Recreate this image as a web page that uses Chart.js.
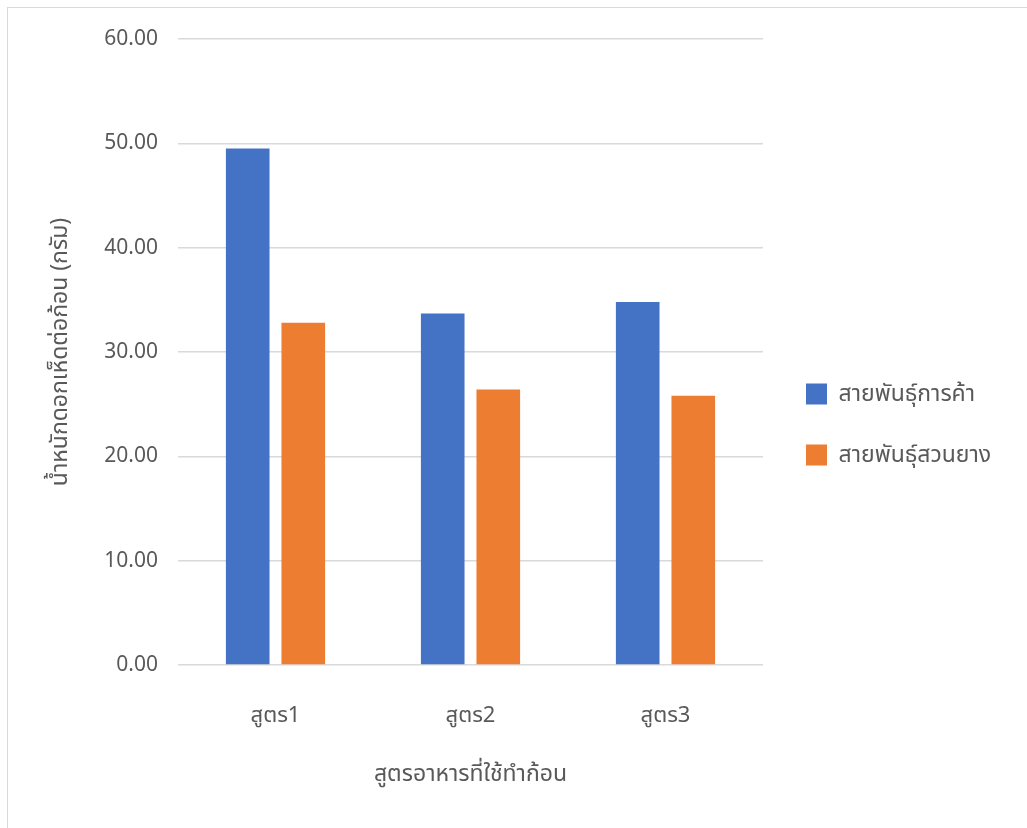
<!DOCTYPE html>
<html>
<head>
<meta charset="utf-8">
<script src="https://cdn.jsdelivr.net/npm/chart.js@4/dist/chart.umd.min.js"></script>
<style>
  html, body { margin: 0; padding: 0; background: #ffffff; overflow: hidden; }
  #frame {
    position: absolute; left: 7px; top: 7px;
    width: 1100px; height: 900px;
    border: 1.5px solid #d9d9d9; box-sizing: border-box;
  }
  #wrap { position: absolute; left: 0; top: 0; width: 1027px; height: 828px; }
</style>
</head>
<body>
<div id="frame"></div>
<div id="wrap"><canvas id="chart"></canvas></div>
<script>
// Mushroom yield per substrate bag, by recipe and strain
const categories = ['สูตร1', 'สูตร2', 'สูตร3'];
const seriesNames = ['สายพันธุ์การค้า', 'สายพันธุ์สวนยาง'];
const commercialStrain = [49.5, 33.7, 34.8];
const suanYangStrain = [32.8, 26.4, 25.8];
const yTicks = [0, 10, 20, 30, 40, 50, 60];

const FONT = "'Noto Sans', 'Noto Sans Thai', 'Open Sans', sans-serif";
const TEXT = '#595959';

// Fixed-width legend column, nudged a little away from the plot
const legendPlacePlugin = {
  id: 'legendPlace',
  beforeInit(chart) {
    const fit = chart.legend.fit;
    chart.legend.fit = function () {
      fit.call(this);
      this.width = 264;
    };
  },
  afterLayout(chart) {
    chart.legend.left += 5;
    chart.legend.right += 5;
  }
};

new Chart(document.getElementById('chart'), {
  type: 'bar',
  data: {
    labels: categories,
    datasets: [
      { label: seriesNames[0], data: commercialStrain, backgroundColor: '#4472C4' },
      { label: seriesNames[1], data: suanYangStrain, backgroundColor: '#ED7D31' }
    ]
  },
  options: {
    responsive: true,
    maintainAspectRatio: false,
    animation: false,
    devicePixelRatio: 1,
    categoryPercentage: 0.57,
    barPercentage: 0.785,
    layout: { padding: { left: 30, top: 39, right: 0, bottom: 18 } },
    plugins: {
      tooltip: { enabled: false },
      legend: {
        position: 'right',
        labels: {
          boxWidth: 21, boxHeight: 21, padding: 38,
          color: TEXT, font: { family: FONT, size: 23 }
        }
      }
    },
    scales: {
      y: {
        min: 0, max: 60,
        afterBuildTicks(scale) { scale.ticks = yTicks.map(v => ({ value: v })); },
        afterFit(scale) { scale.width = 148; },
        ticks: {
          padding: 20, color: TEXT,
          font: { family: FONT, size: 21 },
          callback: v => Number(v).toFixed(2)
        },
        grid: { color: '#d9d9d9', lineWidth: 1.5, drawTicks: false },
        border: { display: false },
        title: {
          display: true, text: 'น้ำหนักดอกเห็ดต่อก้อน (กรัม)',
          color: TEXT, font: { family: FONT, size: 23 }, padding: { top: 17, bottom: 0 }
        }
      },
      x: {
        afterFit(scale) { scale.height = 145; },
        ticks: { padding: 38, color: TEXT, font: { family: FONT, size: 22 } },
        grid: { display: false, drawTicks: false },
        border: { display: false },
        title: {
          display: true, text: 'สูตรอาหารที่ใช้ทำก้อน',
          color: TEXT, font: { family: FONT, size: 23 }, padding: { top: 0, bottom: 22 }
        }
      }
    }
  },
  plugins: [legendPlacePlugin]
});
</script>
</body>
</html>
